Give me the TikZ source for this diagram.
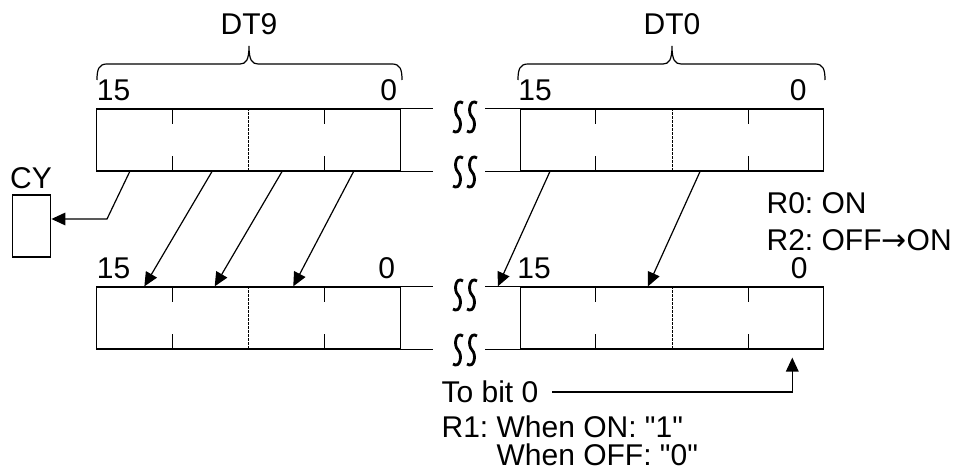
\documentclass[tikz,border=0pt]{standalone}
\usepackage{fontspec}
\setmainfont{Liberation Sans}
\newfontfamily\arrowfont{DejaVu Sans}
\usetikzlibrary{arrows.meta, positioning, calc}

\begin{document}
\frenchspacing
\begin{tikzpicture}[
				x=0.75pt, y=-0.75pt,
				font=\fontsize{22.5}{26}\selectfont,
				line width=0.9pt,
				reg/.style={draw, inner sep=0pt, minimum width=227.5pt, minimum height=46.5pt},
				cybox/.style={draw, inner sep=0pt, minimum width=29pt, minimum height=46.5pt},
				lbl/.style={inner sep=0pt},
				arrow/.style={-{Triangle[length=10.5pt, width=9.5pt]}},
				split/.style={line width=0.6pt, dash pattern=on 1.8pt off 1.2pt},
				wavy/.pic={
					\foreach \s in {-7,7}
					\draw[line width=2.1pt] (\s+5,-14) .. controls (\s-2,-19) and (\s-5,-5) .. (\s,0) .. controls (\s+5,5) and (\s+2,19) .. (\s-5,14);
				}
				]
				\useasboundingbox (0,0) rectangle (965,473);
				
				% Registers
				\node[reg] (top9) at (248.5,140) {};
				\node[reg] (top0) at (672,140) {};
				\node[reg] (bot9) at (248.5,318) {};
				\node[reg] (bot0) at (672,318) {};
				\node[cybox] (cy) at (31.5,226) {};
				
				% Bit dividers
				\foreach \r in {top9,top0,bot9,bot0}{
					\foreach \f in {0.25,0.75}{
						\draw ($(\r.north west)!\f!(\r.north east)$) -- ++(0,16);
						\draw ($(\r.south west)!\f!(\r.south east)$) -- ++(0,-16);
					}
					\draw[split] ($(\r.north west)!0.5!(\r.north east)$) -- ($(\r.south west)!0.5!(\r.south east)$);
				}
				
				% Broken ends
				\foreach \r in {top9,bot9}{
					\draw (\r.north east) -- ++(32,0);
					\draw (\r.south east) -- ++(32,0);
				}
				\foreach \r in {top0,bot0}{
					\draw (\r.north west) -- ++(-35,0);
					\draw (\r.south west) -- ++(-35,0);
				}
				\foreach \y in {117,172,295,350}
				\pic at (465,\y) {wavy};
				
				% Braces
				\draw (97,80) .. controls (97,69) and (99,64) .. (107,64) -- (240,64) .. controls (246,64) and (249,60) .. (249,46) .. controls (249,60) and (252,64) .. (258,64) -- (392,64) .. controls (400,64) and (402,69) .. (402,80);
				\draw (518,80) .. controls (518,69) and (520,64) .. (528,64) -- (663,64) .. controls (669,64) and (672,60) .. (672,46) .. controls (672,60) and (675,64) .. (681,64) -- (815,64) .. controls (823,64) and (825,69) .. (825,80);
				\node (dt9) at (249,24) {DT9};
				\node (dt0) at (672,24) {DT0};
				
				% Bit numbers
				\node[lbl, anchor=south west] (top9hi) at ([yshift=5.25pt]top9.north west) {15};
				\node[lbl, anchor=south east] (top9lo) at ([xshift=-2.25pt, yshift=5.25pt]top9.north east) {0};
				\node[lbl, anchor=south west] (top0hi) at ([xshift=-1.5pt, yshift=5.25pt]top0.north west) {15};
				\node[lbl, anchor=south east] (top0lo) at ([xshift=-12.75pt, yshift=5.25pt]top0.north east) {0};
				\node[lbl, anchor=south west] (bot9hi) at ([yshift=5.25pt]bot9.north west) {15};
				\node[lbl, anchor=south east] (bot9lo) at ([xshift=-3.75pt, yshift=5.25pt]bot9.north east) {0};
				\node[lbl, anchor=south west] (bot0hi) at ([xshift=-2.25pt, yshift=5.25pt]bot0.north west) {15};
				\node[lbl, anchor=south east] (bot0lo) at ([xshift=-12pt, yshift=5.25pt]bot0.north east) {0};
				\node[lbl, anchor=south west] (cylbl) at ([xshift=-1.5pt, yshift=3.75pt]cy.north west) {CY};
				
				% Shift arrows
				\coordinate (cbend) at (107,219);
				\draw[arrow] ($(top9.south west)!0.11!(top9.south east)$) -- (cbend) -- (cbend -| cy.east);
				\foreach \a/\b in {0.38/0.158, 0.61/0.389, 0.845/0.647}
				\draw[arrow] ($(top9.south west)!\a!(top9.south east)$) -- ($(bot9.north west)!\b!(bot9.north east)$);
				\foreach \a/\b in {0.099/-0.072, 0.592/0.421}
				\draw[arrow] ($(top0.south west)!\a!(top0.south east)$) -- ($(bot0.north west)!\b!(bot0.north east)$);
				
				% Conditions
				\node[lbl, anchor=west] (r0) at (766,203) {R0: ON};
				\node[lbl, anchor=west] (r2) at (766,240) {R2: OFF{\arrowfont →}ON};
				\node[lbl, anchor=west] (tobit) at (441,392) {To bit 0};
				\node[lbl, anchor=west] (r1on) at (441,427) {R1: When ON: \textquotedbl 1\textquotedbl};
				\node[lbl, anchor=west] (r1off) at (441,455) {\phantom{R1: }When OFF: \textquotedbl 0\textquotedbl};
				\coordinate (bit0) at ($(bot0.south west)!0.895!(bot0.south east)$);
				\draw[arrow, shorten >=6pt] ([xshift=10pt]tobit.east) -- (tobit.east -| bit0) -- (bit0);
				
			\end{tikzpicture}
\end{document}
